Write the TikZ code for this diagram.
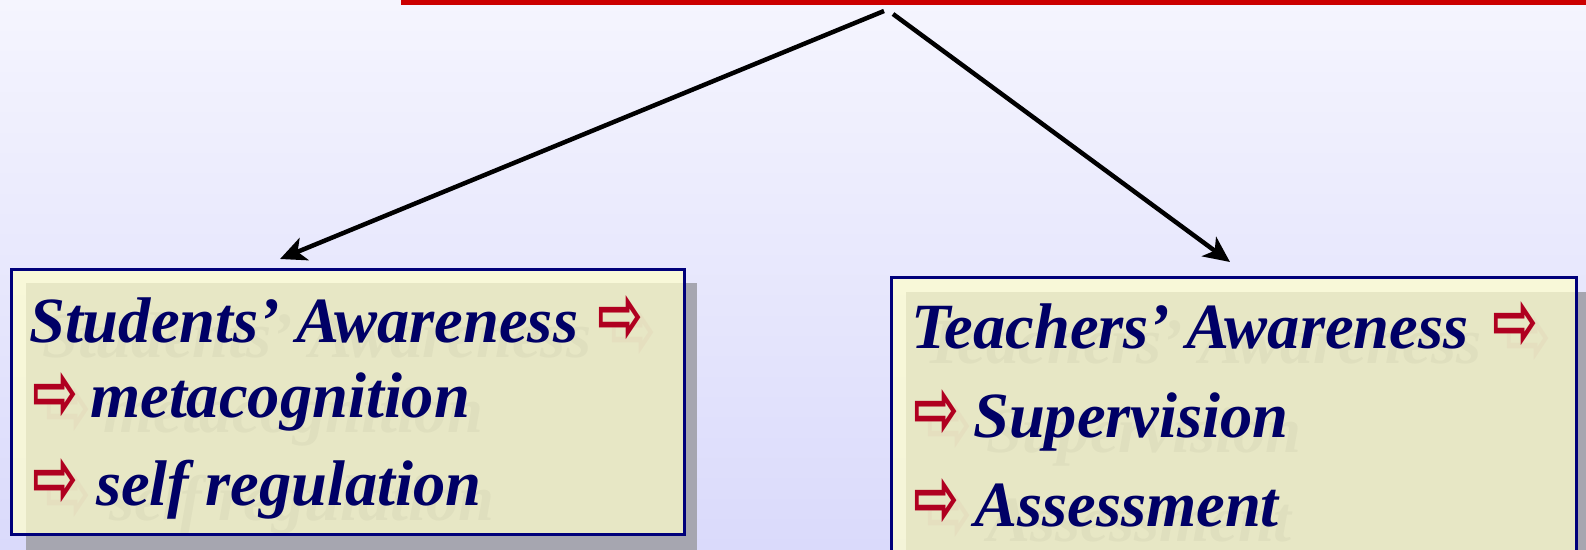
\documentclass[tikz,border=0pt]{standalone}
\usepackage{graphicx}
\usepackage{fontspec}
\setmainfont{Liberation Serif}
\newfontfamily\symfont{DejaVu Sans Bold}
\usetikzlibrary{arrows.meta}

\definecolor{bgtop}{HTML}{F5F5FE}
\definecolor{bgbot}{HTML}{DADAFB}
\definecolor{rulered}{HTML}{CC0000}
\definecolor{inknavy}{HTML}{000066}
\definecolor{frame}{HTML}{00007A}
\definecolor{cream}{HTML}{FEFECD}
\definecolor{shade}{HTML}{A6A6B0}
\definecolor{bulletred}{HTML}{B00020}

% hollow red arrow used as a bullet
\newcommand\arw{{\symfont\fontsize{55}{55}\selectfont\color{bulletred}\scalebox{1}[1.5]{⇨}}}

% one piece of box text: faint offset copy underneath, navy text on top
\newcommand\textline[4]{%
  \node[linetext, text=black, opacity=0.03] at ({#2+13},{#3+15}) {#4};
  \node[linetext] (#1) at (#2,#3) {#4};
}

\begin{document}
\begin{tikzpicture}[x=1pt,y=-1pt,
  linetext/.style={font=\fontsize{64.5}{70}\selectfont\bfseries\itshape,
    text=inknavy, inner sep=0pt, anchor=base west},
  panel/.style={draw=frame, line width=2.7pt, fill=cream, fill opacity=0.75,
    draw opacity=1, inner sep=0pt, anchor=north west},
  panelshadow/.style={fill=shade, draw=none},
  link/.style={line width=4.5pt, -{Stealth[length=26pt,width=24pt,inset=7pt]}}
]
\clip (0,0) rectangle (1586,549);
\shade[top color=bgtop, bottom color=bgbot] (0,0) rectangle (1586,549);

% red rule along the top
\fill[rulered] (401,0) rectangle (1586,4.7);

% connectors from the top
\coordinate (srcL) at (884,11);
\coordinate (srcR) at (893,14);
\coordinate (tipL) at (280,259);
\coordinate (tipR) at (1230,262);
\draw[link] (srcL) -- (tipL);
\draw[link] (srcR) -- (tipR);

% shadows of the two panels
\fill[panelshadow] (26,283) rectangle (697,560);
\fill[panelshadow] (906,292) rectangle (1600,560);

% panels
\node[panel, minimum width=673pt, minimum height=265pt] (sbox) at (10,268) {};
\node[panel, minimum width=685pt, minimum height=300pt] (tbox) at (890,276) {};

% students' panel
\textline{s1}{29}{342}{Students’ Awareness}
\textline{s1a}{597}{343}{\arw}
\textline{s2a}{32}{420}{\arw}
\textline{s2}{90}{417}{metacognition}
\textline{s3a}{32}{506}{\arw}
\textline{s3}{96}{505}{self regulation}

% teachers' panel
\textline{t1}{911}{348}{Teachers’ Awareness}
\textline{t1a}{1492}{349}{\arw}
\textline{t2a}{913}{437}{\arw}
\textline{t2}{973}{437}{Supervision}
\textline{t3a}{913}{526}{\arw}
\textline{t3}{974}{526}{Assessment}
\end{tikzpicture}
\end{document}
